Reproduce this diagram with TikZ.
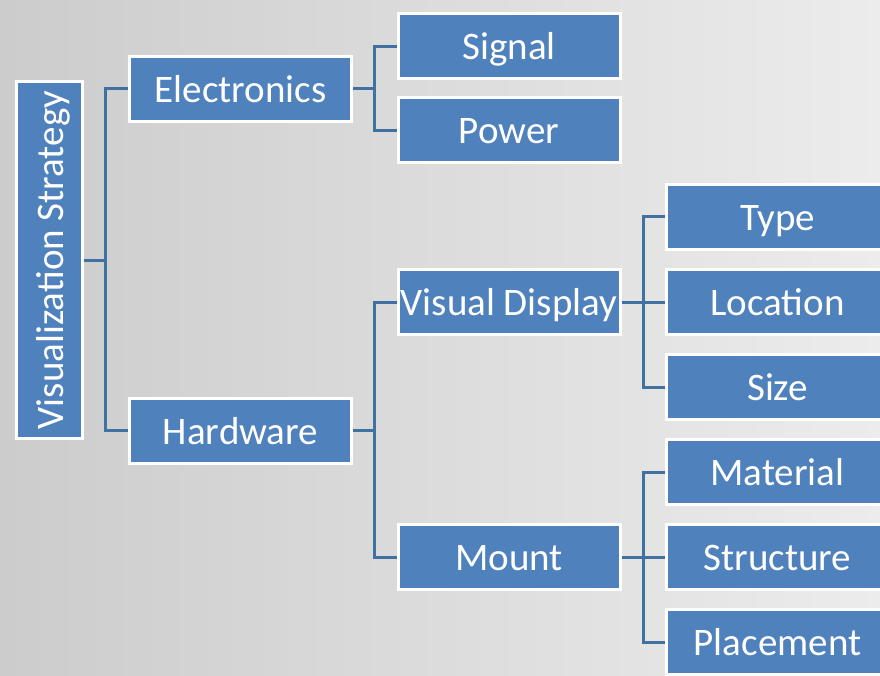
\documentclass[tikz,border=0pt]{standalone}
\usepackage{fontspec}
\setmainfont{Carlito}
\usetikzlibrary{positioning}
\definecolor{boxblue}{RGB}{79,129,189}
\definecolor{linkblue}{RGB}{65,113,160}
\definecolor{bgleft}{RGB}{204,204,204}
\definecolor{bgright}{RGB}{236,236,236}
\tikzset{
  catbox/.style={draw=white,fill=boxblue,line width=3pt,minimum width=222pt,
    minimum height=65pt,inner xsep=1pt,inner ysep=0pt,text=white,
    text height=33pt,text depth=6pt,font=\fontsize{39}{44}\selectfont},
  rootbox/.style={catbox,rotate=90,minimum width=357pt,minimum height=66pt},
  link/.style={draw=linkblue,line width=3pt},
}
\begin{document}
\begin{tikzpicture}[x=1pt,y=-1pt]
  \clip (0,0) rectangle (880,676);
  \shade[left color=bgleft,right color=bgright] (0,0) rectangle (880,676);
  % tree nodes
  \node[rootbox] (root) at (49.5,260) {Visualization Strategy};
  \node[catbox] (elec) at (240.5,89) {Electronics};
  \node[catbox] (hard) at (240.5,430.5) {Hardware};
  \node[catbox] (sig) at (509,46.5) {Signal};
  \node[catbox,below=16pt of sig] (pow) {Power};
  \node[catbox] (disp) at (509,302) {Visual Display};
  \node[catbox] (mount) at (509,557) {Mount};
  \node[catbox] (type) at (777.5,217) {Type};
  \node[catbox,below=17pt of type] (loc) {Location};
  \node[catbox,below=17pt of loc] (size) {Size};
  \node[catbox,below=17pt of size] (mat) {Material};
  \node[catbox,below=17pt of mat] (struc) {Structure};
  \node[catbox,below=17pt of struc] (place) {Placement};
  % connectors
  \draw[link] (root.south) -- ++(21,0) coordinate (j0)
    |- (elec.west) (j0) |- (hard.west);
  \draw[link] (elec.east) -- ++(21,0) coordinate (j1)
    |- (sig.west) (j1) |- (pow.west);
  \draw[link] (hard.east) -- ++(21,0) coordinate (j2)
    |- (disp.west) (j2) |- (mount.west);
  \draw[link] (disp.east) -- ++(22,0) coordinate (j3)
    |- (type.west) (j3) |- (loc.west) (j3) |- (size.west);
  \draw[link] (mount.east) -- ++(22,0) coordinate (j4)
    |- (mat.west) (j4) |- (struc.west) (j4) |- (place.west);
\end{tikzpicture}
\end{document}
